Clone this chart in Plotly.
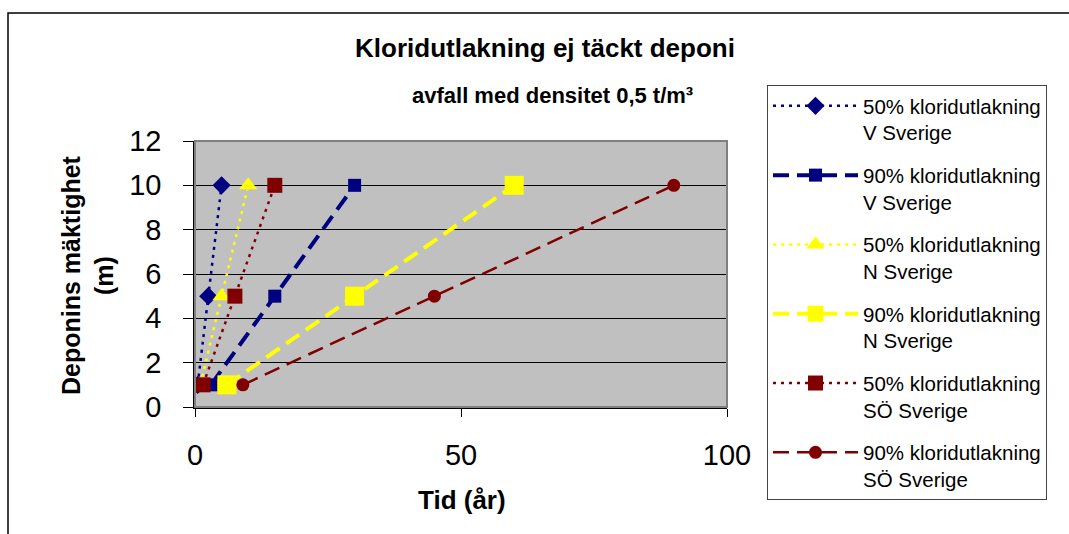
import plotly.graph_objects as go

# Chloride leaching times (years) for three landfill depths (m)
depth_m = [1, 5, 10]

t_50_v = [0.5, 2.5, 5]
t_90_v = [3, 15, 30]
t_50_n = [1, 5, 10]
t_90_n = [6, 30, 60]
t_50_so = [1.5, 7.5, 15]
t_90_so = [9, 45, 90]

names = [
    "50% kloridutlakning<br>V Sverige",
    "90% kloridutlakning<br>V Sverige",
    "50% kloridutlakning<br>N Sverige",
    "90% kloridutlakning<br>N Sverige",
    "50% kloridutlakning<br>SÖ Sverige",
    "90% kloridutlakning<br>SÖ Sverige",
]

NAVY = "#000080"
YELLOW = "#FFFF00"
MAROON = "#800000"

styles = [
    dict(x=t_50_v, color=NAVY, width=2.5, dash="3px,5px", symbol="diamond", size=14),
    dict(x=t_90_v, color=NAVY, width=4, dash="16px,8px", symbol="square", size=13),
    dict(x=t_50_n, color=YELLOW, width=2.5, dash="3px,5px", symbol="triangle-up", size=16),
    dict(x=t_90_n, color=YELLOW, width=4, dash="16px,8px", symbol="square", size=19),
    dict(x=t_50_so, color=MAROON, width=2.5, dash="3px,5px", symbol="square", size=15),
    dict(x=t_90_so, color=MAROON, width=2.5, dash="16px,8px", symbol="circle", size=13),
]

fig = go.Figure()
for i, (name, st) in enumerate(zip(names, styles)):
    fig.add_trace(go.Scatter(
        x=st["x"], y=depth_m, name=name, mode="lines+markers",
        legendgroup=str(i),
        line=dict(color=st["color"], width=st["width"], dash=st["dash"],
                  shape="spline", smoothing=1.0),
        marker=dict(symbol=st["symbol"], size=st["size"], color=st["color"],
                    line=dict(width=0)),
    ))

W, H = 1069, 534
L, R, T, B = 195, 727, 141, 407
pw, ph = R - L, B - T


def px_x(p):
    return (p - L) / pw


def px_y(p):
    return (B - p) / ph


fig.update_layout(
    width=W, height=H,
    margin=dict(l=L, r=W - R, t=T, b=H - B),
    paper_bgcolor="white",
    plot_bgcolor="#C0C0C0",
    font=dict(family="Liberation Sans, Arial, sans-serif", color="black"),
    showlegend=True,
    legend=dict(
        x=px_x(767), y=px_y(85), xanchor="left", yanchor="top",
        bgcolor="white", bordercolor="#444444", borderwidth=1,
        font=dict(size=20.5, color="black"),
        itemwidth=85, tracegroupgap=13, valign="top",
        maxheight=500,
    ),
    xaxis=dict(
        range=[0, 100], tickvals=[0, 50, 100], showgrid=False, zeroline=False,
        showline=True, linecolor="black", linewidth=1.5,
        ticks="outside", ticklen=8, tickcolor="black",
        tickfont=dict(size=29), ticklabelstandoff=13,
    ),
    yaxis=dict(
        range=[0, 12], dtick=2, showgrid=True, gridcolor="black", gridwidth=1,
        zeroline=False, showline=True, linecolor="black", linewidth=1.5,
        ticks="outside", ticklen=10, tickcolor="black",
        tickfont=dict(size=29), ticklabelstandoff=16,
    ),
    title=dict(
        text="<b>Kloridutlakning ej täckt deponi</b>",
        x=545 / W, xanchor="center", y=1 - 48 / H, yanchor="middle",
        font=dict(size=26, color="black"),
    ),
    annotations=[
        dict(text="<b>avfall med densitet 0,5 t/m³</b>", xref="paper", yref="paper",
             x=px_x(552), y=px_y(95), showarrow=False, font=dict(size=22),
             xanchor="center", yanchor="middle"),
        dict(text="<b>Tid (år)</b>", xref="paper", yref="paper",
             x=px_x(462), y=px_y(500), showarrow=False, font=dict(size=26),
             xanchor="center", yanchor="middle"),
        dict(text="<b>Deponins mäktighet<br>(m)</b>", xref="paper", yref="paper",
             x=px_x(87), y=px_y(275), showarrow=False, font=dict(size=25),
             textangle=-90, xanchor="center", yanchor="middle"),
    ],
    shapes=[
        # gray plot-area frame
        dict(type="rect", xref="paper", yref="paper", x0=0, y0=0, x1=1, y1=1,
             line=dict(color="#808080", width=2), layer="above"),
        # outer chart frame (top and left edges)
        dict(type="path", xref="paper", yref="paper",
             path=f"M {px_x(8)} {px_y(540)} L {px_x(8)} {px_y(13)} L {px_x(1075)} {px_y(13)}",
             line=dict(color="black", width=1.5)),
    ],
)

fig.write_html("out.html")
